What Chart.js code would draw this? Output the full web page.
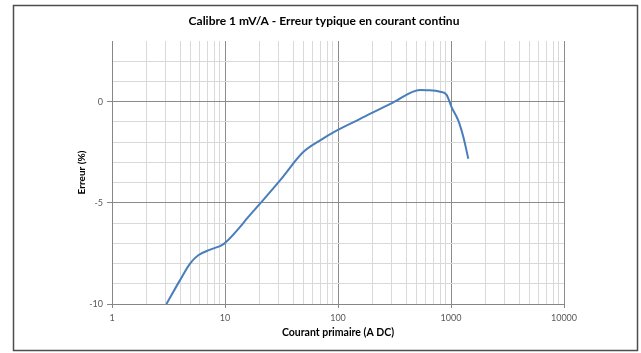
<!DOCTYPE html>
<html>
<head>
<meta charset="utf-8">
<script src="https://cdn.jsdelivr.net/npm/chart.js@4/dist/chart.umd.min.js"></script>
<style>
  html, body { margin: 0; padding: 0; background: #ffffff; }
  #wrap { width: 641px; height: 353px; position: relative; }
</style>
</head>
<body>
<div id="wrap"><canvas id="c" width="641" height="353"></canvas></div>
<script>
// ---- data ----
const currents = [3.03, 4.0, 4.9, 5.8, 7.4, 9.7, 13.6, 15.6, 20.4, 30.7, 49, 69, 97, 157, 309, 532, 610, 800, 914, 1014, 1161, 1288, 1423];
const errors   = [-10, -8.82, -8.0, -7.59, -7.31, -7.04, -6.19, -5.78, -5.04, -3.89, -2.5, -1.92, -1.43, -0.85, -0.03, 0.58, 0.57, 0.49, 0.34, -0.28, -0.94, -1.76, -2.82];
const xDecades = [1, 10, 100, 1000, 10000];
const yLabels  = [-10, -5, 0];

const titleText = 'Calibre 1 mV/A - Erreur typique en courant continu';
const xTitle = 'Courant primaire (A DC)';
const yTitle = 'Erreur (%)';

const points = currents.map((x, i) => ({ x: x, y: errors[i] }));

const isDecade = v => xDecades.some(d => Math.abs(d - v) < 1e-9 * d);

const framePlugin = {
  id: 'frame',
  beforeDraw(chart) {
    const ctx = chart.ctx;
    ctx.save();
    ctx.fillStyle = '#ffffff';
    ctx.fillRect(0, 0, chart.width, chart.height);
    ctx.strokeStyle = '#4d4d4d';
    ctx.lineWidth = 1.5;
    ctx.strokeRect(13.5, 5.5, 624, 345);
    ctx.restore();
  }
};

new Chart(document.getElementById('c'), {
  type: 'line',
  data: {
    datasets: [{
      data: points,
      borderColor: '#4a7ebb',
      borderWidth: 2,
      pointRadius: 0,
      fill: false,
      cubicInterpolationMode: 'monotone'
    }]
  },
  options: {
    responsive: false,
    animation: false,
    devicePixelRatio: 1,
    layout: { padding: { left: 7, right: 0, top: 0, bottom: 0 } },
    plugins: {
      legend: { display: false },
      tooltip: { enabled: false },
      title: {
        display: true,
        text: titleText,
        color: '#000000',
        font: { family: 'Lato', size: 12, weight: 'bold', lineHeight: 1.2 },
        padding: { top: 14, bottom: 12.6 }
      }
    },
    scales: {
      x: {
        type: 'logarithmic',
        min: 1,
        max: 10000,
        afterBuildTicks(scale) {
          const t = [];
          for (let i = 0; i < xDecades.length; i++) {
            const d = xDecades[i];
            if (i === xDecades.length - 1) { t.push({ value: d }); break; }
            for (let k = 1; k <= 9; k++) t.push({ value: k * d });
          }
          scale.ticks = t;
        },
        afterFit(scale) { scale.height = 49; },
        border: { display: true, color: '#868686', width: 1 },
        grid: {
          color: ctx => isDecade(ctx.tick.value) ? '#8c8c8c' : '#d9d9d9',
          lineWidth: 1,
          drawTicks: true,
          tickLength: 4,
          tickColor: ctx => isDecade(ctx.tick.value) ? '#868686' : 'rgba(0,0,0,0)'
        },
        ticks: {
          autoSkip: false,
          maxRotation: 0,
          padding: 5,
          color: '#595959',
          font: { family: 'Lato', size: 9 },
          callback: v => isDecade(v) ? String(v) : ''
        },
        title: {
          display: true,
          text: xTitle,
          color: '#000000',
          font: { family: 'Lato', size: 10.5, weight: 'bold', lineHeight: 1.2 },
          padding: { top: 13.7, bottom: 13.7 }
        }
      },
      y: {
        type: 'linear',
        min: -10,
        max: 3,
        afterFit(scale) { scale.width = 105; },
        border: { display: true, color: '#868686', width: 1 },
        grid: {
          color: ctx => {
            const v = ctx.tick.value;
            if (v === 3) return 'rgba(0,0,0,0)';
            return yLabels.includes(v) ? '#8c8c8c' : '#d9d9d9';
          },
          lineWidth: 1,
          drawTicks: true,
          tickLength: 5,
          tickColor: ctx => yLabels.includes(ctx.tick.value) ? '#868686' : 'rgba(0,0,0,0)'
        },
        ticks: {
          stepSize: 1,
          autoSkip: false,
          padding: 4,
          color: '#595959',
          font: { family: 'Lato', size: 9 },
          callback: v => yLabels.includes(v) ? String(v) : ''
        },
        title: {
          display: true,
          text: yTitle,
          color: '#000000',
          font: { family: 'Lato', size: 10, weight: 'bold', lineHeight: 1.2 },
          padding: { top: 69, bottom: 0 }
        }
      },
      yR: {
        type: 'linear',
        position: 'right',
        display: true,
        afterFit(scale) { scale.width = 77; },
        grid: { display: false, drawTicks: false },
        border: { display: false },
        ticks: { display: false }
      }
    }
  },
  plugins: [framePlugin]
});
</script>
</body>
</html>
